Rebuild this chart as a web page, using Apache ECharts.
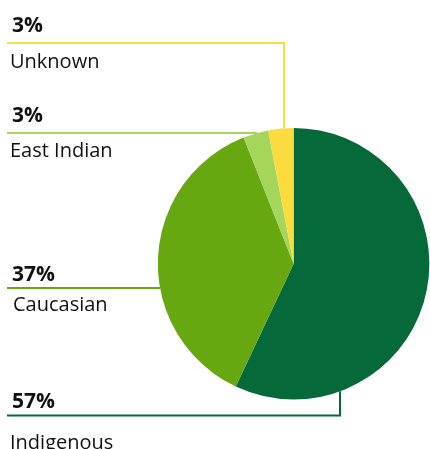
<!DOCTYPE html>
<html>
<head>
<meta charset="utf-8">
<script src="https://cdn.jsdelivr.net/npm/echarts@6/dist/echarts.min.js"></script>
<style>
  html, body { margin: 0; padding: 0; background: #ffffff; }
  #chart { width: 430px; height: 449px; }
</style>
</head>
<body>
<div id="chart"></div>
<script>
// Population groups and their shares (%)
const groups = ['Indigenous', 'Caucasian', 'East Indian', 'Unknown'];
const shares = [57, 37, 3, 3];
const sliceColors = ['#05693a', '#67a70f', '#a6d55c', '#fcdb3f'];

// Callout layout: leader row height, optional x where the leader turns toward the pie,
// heights of the percentage row and the name row, and name indent.
const callouts = [
  { lineY: 415.5, turnX: 340, top: 26, bottom: 56, indent: 0 },
  { lineY: 288,   turnX: null, top: 26, bottom: 34, indent: 3 },
  { lineY: 133,   turnX: null, top: 34, bottom: 37, indent: 0 },
  { lineY: 43,    turnX: 284, top: 34, bottom: 39, indent: 0 }
];

const CX = 293.6, CY = 263.75, R = 135.75;
const LINE_X0 = 7, TEXT_X = 10;
const FONT = '"Open Sans", "Liberation Sans", sans-serif';
const TEXT_COLOR = '#111111';

// Leader line: horizontal rule from the left margin, then into the pie rim
function leaderPoints(c) {
  if (c.turnX == null) {
    const dx = Math.sqrt(R * R - (c.lineY - CY) * (c.lineY - CY));
    const end = [CX - dx, c.lineY];
    return [[LINE_X0, c.lineY], end.slice(), end.slice()];
  }
  const dy = Math.sqrt(R * R - (c.turnX - CX) * (c.turnX - CX));
  const endY = c.lineY < CY ? CY - dy : CY + dy;
  return [[LINE_X0, c.lineY], [c.turnX, c.lineY], [c.turnX, endY]];
}

function richFor(c) {
  return {
    p: { fontFamily: FONT, fontSize: 21, fontWeight: 'bold', color: TEXT_COLOR,
         lineHeight: c.top, padding: [0, 0, 0, 2] },
    n: { fontFamily: FONT, fontSize: 20, color: TEXT_COLOR,
         lineHeight: c.bottom, padding: [0, 0, 0, c.indent] }
  };
}

const chart = echarts.init(document.getElementById('chart'), null, { renderer: 'canvas' });

chart.setOption({
  animation: false,
  backgroundColor: '#ffffff',
  series: [{
    type: 'pie',
    center: [CX, CY],
    radius: R,
    startAngle: 90,
    clockwise: true,
    avoidLabelOverlap: false,
    emphasis: { disabled: true },
    itemStyle: { borderWidth: 0 },
    label: {
      show: true,
      position: 'outside',
      formatter: '{p|{c}%}\n{n|{b}}',
      width: 200,
      overflow: 'none',
      color: TEXT_COLOR
    },
    labelLine: {
      show: true,
      length: 10,
      length2: 10,
      smooth: false,
      lineStyle: { width: 2 }
    },
    labelLayout: function (params) {
      const c = callouts[params.dataIndex];
      return {
        x: TEXT_X,
        y: c.lineY - c.top,
        align: 'left',
        verticalAlign: 'top',
        labelLinePoints: leaderPoints(c)
      };
    },
    data: groups.map((name, i) => ({
      name: name,
      value: shares[i],
      itemStyle: { color: sliceColors[i] },
      label: { rich: richFor(callouts[i]) }
    }))
  }]
});
</script>
</body>
</html>
